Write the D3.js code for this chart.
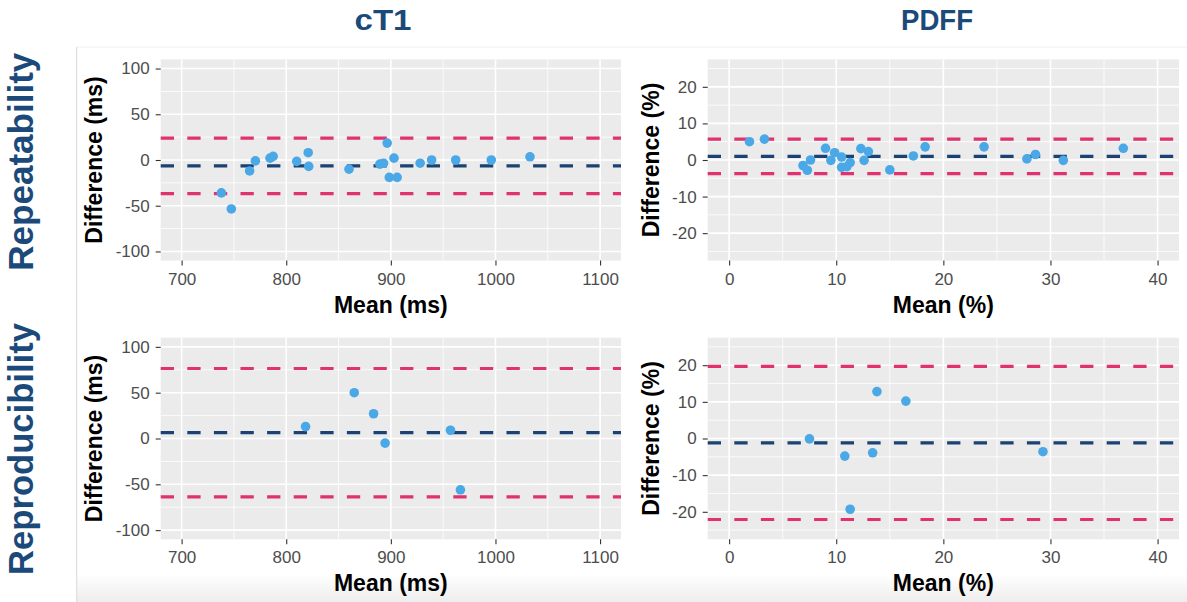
<!DOCTYPE html>
<html>
<head>
<meta charset="utf-8">
<script src="https://cdn.jsdelivr.net/npm/d3@7"></script>
<style>
    body { margin: 0; background: #fff; }
    svg { display: block; }
</style>
</head>
<body>
<div id="chart"></div>
<script>

// ---- data ----

// x / y tick values
let cT1XTicks = [700, 800, 900, 1000, 1100];
let cT1YTicks = [-100, -50, 0, 50, 100];
let pdffXTicks = [0, 10, 20, 30, 40];
let pdffYTicks = [-20, -10, 0, 10, 20];

// repeatability, cT1 (ms)
let cT1RepMean = [738, 747.5, 765, 770.5, 784.5, 787.5, 810, 821, 821.5, 860, 889.5, 893, 896.5, 898.5, 903, 906, 928, 939, 962, 996, 1033];
let cT1RepDiff = [-36, -53.5, -12, -1, 2, 4, -1.5, 8, -7, -10, -4.5, -3.5, 18.5, -19, 2, -19, -3.5, 0, 0, 0, 3.5];
let cT1RepLines = [-6.5, 24, -36.7];   // bias, upper LoA, lower LoA

// repeatability, PDFF (%)
let pdffRepMean = [1.9, 3.3, 6.9, 7.3, 7.6, 9.0, 9.5, 9.85, 10.5, 10.5, 11.0, 11.3, 12.3, 13.0, 12.6, 15.0, 17.2, 18.3, 23.8, 27.8, 28.6, 31.2, 36.8];
let pdffRepDiff = [5.0, 5.7, -1.5, -2.8, 0, 3.2, -0.1, 2.0, 0.8, -2.0, -1.8, -0.7, 3.1, 2.3, -0.1, -2.7, 1.1, 3.6, 3.6, 0.3, 1.5, -0.1, 3.2];
let pdffRepLines = [1.0, 5.7, -3.7];

// reproducibility, cT1 (ms)
let cT1ReproMean = [818.5, 865, 883.5, 894.5, 957, 966.5];
let cT1ReproDiff = [13, 50, 27, -5, 9, -56];
let cT1ReproLines = [6.5, 76.4, -63.8];

// reproducibility, PDFF (%)
let pdffReproMean = [7.5, 10.8, 11.3, 13.4, 13.8, 16.5, 29.3];
let pdffReproDiff = [-0.1, -4.8, -19.3, -3.9, 12.8, 10.2, -3.6];
let pdffReproLines = [-1.2, 19.7, -22.1];

let colTitles = ["cT1", "PDFF"];
let rowTitles = ["Repeatability", "Reproducibility"];


// ---- bland-altman panel ----

class baPanel {
    constructor(svg, box, opts) {
        this.svg = svg;
        this.box = box;
        this.opts = opts;
        this.initVis();
    }

    initVis() {
        let vis = this;
        let o = vis.opts;

        vis.width = vis.box.x1 - vis.box.x0;
        vis.height = vis.box.y1 - vis.box.y0;

        vis.g = vis.svg.append("g")
            .attr("transform", "translate(" + vis.box.x0 + "," + vis.box.y0 + ")");

        vis.x = d3.scaleLinear().domain(o.xDomain).range([0, vis.width]);
        vis.y = d3.scaleLinear().domain(o.yDomain).range([vis.height, 0]);

        // grey panel
        vis.g.append("rect")
            .attr("width", vis.width)
            .attr("height", vis.height)
            .attr("fill", "#ebebeb");

        // minor grid = midpoints between majors (ggplot style)
        let minor = function (ticks, dom) {
            let step = ticks[1] - ticks[0];
            let out = [];
            for (let v = ticks[0] - step / 2; v <= dom[1]; v += step) {
                if (v >= dom[0]) out.push(v);
            }
            return out;
        };
        vis.xMinor = minor(o.xTicks, o.xDomain);
        vis.yMinor = minor(o.yTicks, o.yDomain);

        vis.g.selectAll(".vminor").data(vis.xMinor).enter().append("line")
            .attr("x1", d => vis.x(d)).attr("x2", d => vis.x(d))
            .attr("y1", 0).attr("y2", vis.height)
            .attr("stroke", "#fff").attr("stroke-width", 0.8);
        vis.g.selectAll(".hminor").data(vis.yMinor).enter().append("line")
            .attr("y1", d => vis.y(d)).attr("y2", d => vis.y(d))
            .attr("x1", 0).attr("x2", vis.width)
            .attr("stroke", "#fff").attr("stroke-width", 0.8);
        vis.g.selectAll(".vmajor").data(o.xTicks).enter().append("line")
            .attr("x1", d => vis.x(d)).attr("x2", d => vis.x(d))
            .attr("y1", 0).attr("y2", vis.height)
            .attr("stroke", "#fff").attr("stroke-width", 1.6);
        vis.g.selectAll(".hmajor").data(o.yTicks).enter().append("line")
            .attr("y1", d => vis.y(d)).attr("y2", d => vis.y(d))
            .attr("x1", 0).attr("x2", vis.width)
            .attr("stroke", "#fff").attr("stroke-width", 1.6);

        // axes
        vis.xAxis = d3.axisBottom(vis.x).tickValues(o.xTicks).tickSize(5).tickPadding(7)
            .tickFormat(d => String(d));
        vis.yAxis = d3.axisLeft(vis.y).tickValues(o.yTicks).tickSize(5).tickPadding(6)
            .tickFormat(d => String(d));

        vis.g.append("g").attr("class", "x-axis axis")
            .attr("transform", "translate(0," + vis.height + ")")
            .call(vis.xAxis);
        vis.g.append("g").attr("class", "y-axis axis")
            .call(vis.yAxis);

        vis.g.selectAll(".axis .domain").remove();
        vis.g.selectAll(".axis line").attr("stroke", "#333").attr("stroke-width", 1.1);
        vis.g.selectAll(".axis text")
            .attr("fill", "#4d4d4d")
            .style("font-family", "'Liberation Sans', Arial, sans-serif")
            .style("font-size", "17px");

        // axis titles
        vis.g.append("text")
            .attr("x", vis.width / 2)
            .attr("y", vis.height + 52)
            .attr("text-anchor", "middle")
            .attr("class", "axis-label")
            .text(o.xTitle);

        vis.g.append("text")
            .attr("transform", "rotate(-90)")
            .attr("x", -vis.height / 2)
            .attr("y", -o.yTitleGap)
            .attr("text-anchor", "middle")
            .attr("class", "axis-label")
            .text(o.yTitle);

        vis.g.selectAll(".axis-label")
            .style("font-family", "'Liberation Sans', Arial, sans-serif")
            .style("font-size", "23px")
            .style("font-weight", "bold")
            .attr("fill", "#000");

        vis.updateVis();
    }

    updateVis() {
        let vis = this;
        let o = vis.opts;

        // bias + limits of agreement
        let lineColors = ["#1a4272", "#e0326f", "#e0326f"];
        vis.g.selectAll(".refline").data(o.lines).enter().append("line")
            .attr("class", "refline")
            .attr("x1", 0).attr("x2", vis.width)
            .attr("y1", d => vis.y(d)).attr("y2", d => vis.y(d))
            .attr("stroke", (d, i) => lineColors[i])
            .attr("stroke-width", 3.2)
            .attr("stroke-dasharray", "13.3,13.3");

        let pts = o.means.map((m, i) => ({ m: m, d: o.diffs[i] }));

        vis.g.selectAll(".pt").data(pts).enter().append("circle")
            .attr("class", "pt")
            .attr("cx", d => vis.x(d.m))
            .attr("cy", d => vis.y(d.d))
            .attr("r", 4.8)
            .attr("fill", "#4aa8e6");
    }
}


// ---- page ----

let W = 1187, H = 602;

let svg = d3.select("#chart").append("svg")
    .attr("width", W)
    .attr("height", H);

// faint frame of the pasted plot + soft bottom shading
let defs = svg.append("defs");
let grad = defs.append("linearGradient").attr("id", "shade")
    .attr("x1", 0).attr("y1", 0).attr("x2", 0).attr("y2", 1);
grad.append("stop").attr("offset", "0%").attr("stop-color", "#ffffff");
grad.append("stop").attr("offset", "100%").attr("stop-color", "#ededed");
svg.append("rect").attr("x", 77).attr("y", 574).attr("width", W - 77).attr("height", H - 574)
    .attr("fill", "url(#shade)");

svg.append("line").attr("x1", 76.7).attr("x2", 76.7).attr("y1", 47).attr("y2", H)
    .attr("stroke", "#d9d9d9").attr("stroke-width", 1);
svg.append("line").attr("x1", 76.7).attr("x2", W).attr("y1", 47).attr("y2", 47)
    .attr("stroke", "#f0f0f0").attr("stroke-width", 1);

let cols = [{ x0: 160.7, x1: 621 }, { x0: 707.7, x1: 1179 }];
let rows = [{ y0: 59.4, y1: 260.6 }, { y0: 337.7, y1: 539.3 }];

let cT1Opts = { xDomain: [680, 1120], yDomain: [-110, 110], xTicks: cT1XTicks, yTicks: cT1YTicks,
    xTitle: "Mean (ms)", yTitle: "Difference (ms)", yTitleGap: 59 };
let pdffOpts = { xDomain: [-2, 42], yDomain: [-27.5, 27.5], xTicks: pdffXTicks, yTicks: pdffYTicks,
    xTitle: "Mean (%)", yTitle: "Difference (%)", yTitleGap: 49 };

let panels = [
    [cT1Opts, cT1RepMean, cT1RepDiff, cT1RepLines, 0, 0],
    [pdffOpts, pdffRepMean, pdffRepDiff, pdffRepLines, 1, 0],
    [cT1Opts, cT1ReproMean, cT1ReproDiff, cT1ReproLines, 0, 1],
    [pdffOpts, pdffReproMean, pdffReproDiff, pdffReproLines, 1, 1]
];

panels.forEach(function (p) {
    let box = { x0: cols[p[4]].x0, x1: cols[p[4]].x1, y0: rows[p[5]].y0, y1: rows[p[5]].y1 };
    let opts = Object.assign({}, p[0], { means: p[1], diffs: p[2], lines: p[3] });
    new baPanel(svg, box, opts);
});

// column titles
let colX = [383, 937];
let colLen = [57, 72];
svg.selectAll(".colTitle").data(colTitles).enter().append("text")
    .attr("class", "colTitle")
    .attr("x", (d, i) => colX[i])
    .attr("y", 30)
    .attr("text-anchor", "middle")
    .attr("textLength", (d, i) => colLen[i])
    .attr("lengthAdjust", "spacingAndGlyphs")
    .style("font-family", "'Liberation Sans', Arial, sans-serif")
    .style("font-weight", "bold")
    .style("font-size", "30px")
    .attr("fill", "#1b4a7a")
    .text(d => d);

// row titles
let rowY = [161.7, 449];
let rowLen = [218, 252];
svg.selectAll(".rowTitle").data(rowTitles).enter().append("text")
    .attr("class", "rowTitle")
    .attr("transform", (d, i) => "translate(33," + rowY[i] + ") rotate(-90)")
    .attr("text-anchor", "middle")
    .attr("textLength", (d, i) => rowLen[i])
    .attr("lengthAdjust", "spacingAndGlyphs")
    .style("font-family", "'Liberation Sans', Arial, sans-serif")
    .style("font-weight", "bold")
    .style("font-size", "35px")
    .attr("fill", "#1b4a7a")
    .text(d => d);

</script>
</body>
</html>
